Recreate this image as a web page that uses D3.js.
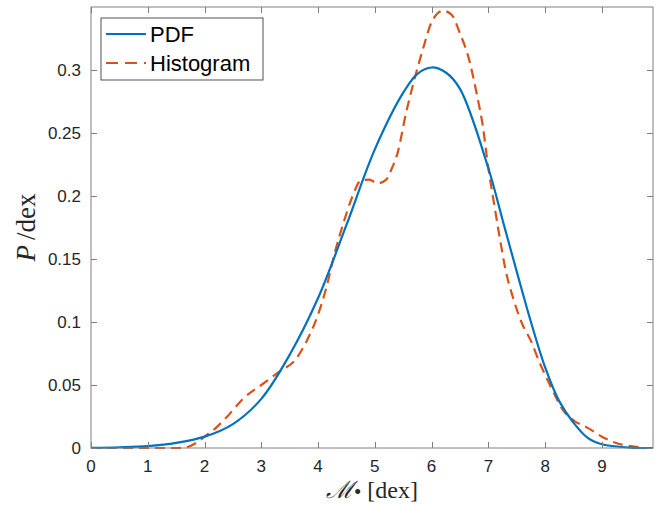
<!DOCTYPE html>
<html lang="en">
<head>
<meta charset="UTF-8">
<title>PDF vs Histogram</title>
<script src="https://d3js.org/d3.v7.min.js"></script>
<style>
    body { margin: 0; background: #fff; }
    svg { display: block; }
    .tick-label { font-family: "Liberation Sans", Arial, sans-serif; font-size: 17px; fill: #262626; }
    .legend-text { font-family: "Liberation Sans", Arial, sans-serif; font-size: 22px; fill: #000; }
    .axis-title { font-family: "Liberation Serif", "DejaVu Serif", serif; fill: #262626; }
</style>
</head>
<body>
<svg id="chart"></svg>
<script>
// PDF curve (blue)
const pdfX = [0, 0.5, 1, 1.5, 2, 2.5, 3, 3.5, 4, 4.5, 5, 5.5, 5.75, 6, 6.25, 6.5, 7, 7.25, 7.5, 7.75, 8, 8.25, 8.5, 8.75, 9, 9.5, 9.9];
const pdfY = [0.0002, 0.0006, 0.0015, 0.004, 0.009, 0.019, 0.039, 0.074, 0.119, 0.177, 0.237, 0.282, 0.297, 0.302, 0.298, 0.285, 0.222, 0.181, 0.140, 0.100, 0.064, 0.037, 0.020, 0.008, 0.003, 0.0003, 0];

// histogram curve (orange dashed)
const histX = [0, 0.5, 1, 1.5, 1.65, 1.85, 2, 2.2, 2.4, 2.7, 3, 3.33, 3.6, 3.8, 4, 4.15, 4.3, 4.45, 4.6, 4.75, 4.9, 5.05, 5.2, 5.3, 5.4, 5.55, 5.7, 5.85, 6, 6.2, 6.35, 6.5, 6.65, 6.8, 6.9, 7, 7.1, 7.2, 7.3, 7.45, 7.6, 7.75, 7.9, 8, 8.15, 8.3, 8.5, 8.75, 9, 9.25, 9.5, 9.75];
const histY = [0, 0, 0, 0, 0.0003, 0.004, 0.009, 0.016, 0.025, 0.040, 0.050, 0.061, 0.070, 0.085, 0.106, 0.128, 0.156, 0.179, 0.199, 0.212, 0.213, 0.210, 0.213, 0.222, 0.234, 0.266, 0.293, 0.317, 0.338, 0.347, 0.344, 0.329, 0.310, 0.280, 0.256, 0.222, 0.194, 0.167, 0.142, 0.117, 0.098, 0.085, 0.068, 0.058, 0.044, 0.031, 0.022, 0.016, 0.009, 0.004, 0.0015, 0.0003];

const xTicks = [0, 1, 2, 3, 4, 5, 6, 7, 8, 9];
const yTicks = [0, 0.05, 0.1, 0.15, 0.2, 0.25, 0.3];
const yTickLabels = ["0", "0.05", "0.1", "0.15", "0.2", "0.25", "0.3"];

const seriesNames = ["PDF", "Histogram"];
const seriesColors = ["#0072BD", "#D95319"];

const width = 662, height = 506;
const margin = {top: 7, right: 9, bottom: 58, left: 91};
const plotW = width - margin.left - margin.right;
const plotH = height - margin.top - margin.bottom;

const svg = d3.select("#chart").attr("width", width).attr("height", height);

const x = d3.scaleLinear().domain([0, 9.9]).range([0, plotW]);
const y = d3.scaleLinear().domain([0, 0.35]).range([plotH, 0]);

const g = svg.append("g").attr("transform", `translate(${margin.left},${margin.top})`);

g.append("clipPath").attr("id", "clip")
    .append("rect").attr("width", plotW).attr("height", plotH + 2).attr("y", -1);

// curves
const pdfData = pdfX.map((v, i) => [v, pdfY[i]]);
const histData = histX.map((v, i) => [v, histY[i]]);

const line = d3.line()
    .x(d => x(d[0]))
    .y(d => y(Math.max(0, d[1])));

g.append("path")
    .datum(histData)
    .attr("clip-path", "url(#clip)")
    .attr("fill", "none")
    .attr("stroke", seriesColors[1])
    .attr("stroke-width", 2.2)
    .attr("stroke-dasharray", "10,6")
    .attr("d", line.curve(d3.curveMonotoneX)(histData));

g.append("path")
    .datum(pdfData)
    .attr("clip-path", "url(#clip)")
    .attr("fill", "none")
    .attr("stroke", seriesColors[0])
    .attr("stroke-width", 2.2)
    .attr("d", line.curve(d3.curveCatmullRom.alpha(0.5))(pdfData));

// box + ticks on all sides
const axisColor = "#808080";
const tickLen = 6;

g.append("rect")
    .attr("width", plotW).attr("height", plotH)
    .attr("fill", "none").attr("stroke", axisColor).attr("stroke-width", 1);

xTicks.forEach(t => {
    const px = Math.round(x(t)) + 0.5;
    g.append("line").attr("x1", px).attr("x2", px).attr("y1", plotH).attr("y2", plotH - tickLen)
        .attr("stroke", axisColor);
    g.append("line").attr("x1", px).attr("x2", px).attr("y1", 0).attr("y2", tickLen)
        .attr("stroke", axisColor);
    g.append("text").attr("class", "tick-label")
        .attr("x", x(t)).attr("y", plotH + 24)
        .attr("text-anchor", "middle")
        .text(t);
});

yTicks.forEach((t, i) => {
    const py = Math.round(y(t)) + 0.5;
    g.append("line").attr("x1", 0).attr("x2", tickLen).attr("y1", py).attr("y2", py)
        .attr("stroke", axisColor);
    g.append("line").attr("x1", plotW).attr("x2", plotW - tickLen).attr("y1", py).attr("y2", py)
        .attr("stroke", axisColor);
    g.append("text").attr("class", "tick-label")
        .attr("x", -10).attr("y", y(t) + 6)
        .attr("text-anchor", "end")
        .text(yTickLabels[i]);
});

// axis titles
const xt = svg.append("text").attr("class", "axis-title")
    .attr("x", margin.left + plotW / 2).attr("y", 498)
    .attr("text-anchor", "middle")
    .style("font-size", "24px");
xt.append("tspan").style("font-style", "italic").text("\u2133");
xt.append("tspan").attr("dy", 1).style("font-size", "21px").text("\u2022");
xt.append("tspan").attr("dy", -1).attr("dx", 6).text("[dex]");

const yt = svg.append("text").attr("class", "axis-title")
    .attr("transform", `translate(35,${margin.top + plotH / 2}) rotate(-90)`)
    .attr("text-anchor", "middle")
    .style("font-size", "27px");
yt.append("tspan").style("font-style", "italic").text("P");
yt.append("tspan").attr("dx", 5).text("/dex");

// legend
const leg = svg.append("g").attr("transform", "translate(101,18)");
leg.append("rect").attr("width", 162).attr("height", 62)
    .attr("fill", "#fff").attr("stroke", "#262626").attr("stroke-width", 0.8);

seriesNames.forEach((name, i) => {
    const cy = 16 + i * 29;
    leg.append("line").attr("x1", 5).attr("x2", 45).attr("y1", cy).attr("y2", cy)
        .attr("stroke", seriesColors[i]).attr("stroke-width", 2.2)
        .attr("stroke-dasharray", i === 1 ? "12,7" : null);
    leg.append("text").attr("class", "legend-text")
        .attr("x", 49).attr("y", cy + 8)
        .text(name);
});
</script>
</body>
</html>
